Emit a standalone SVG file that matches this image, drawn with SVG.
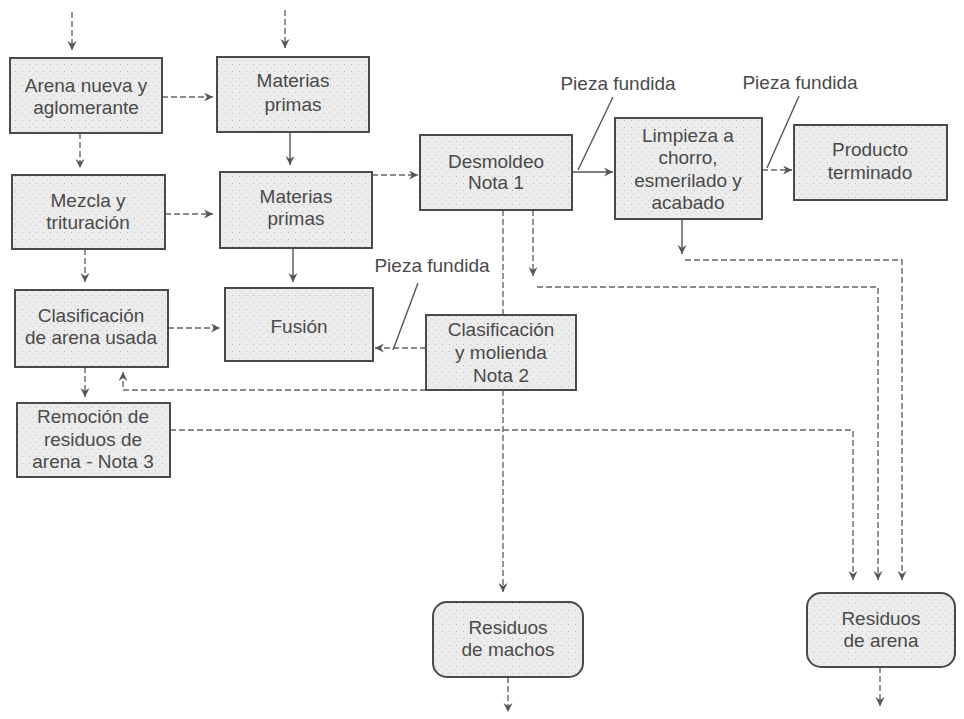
<svg xmlns="http://www.w3.org/2000/svg" width="964" height="719" viewBox="0 0 964 719">
<defs>
<pattern id="stip" width="7" height="7" patternUnits="userSpaceOnUse">
<rect width="7" height="7" fill="#ececec"/>
<circle cx="1.5" cy="1.5" r="0.6" fill="#b4b4b4"/>
<circle cx="5" cy="4.5" r="0.5" fill="#c4c4c4"/>
</pattern>
<marker id="ah" markerWidth="10" markerHeight="10" refX="9" refY="4.5" orient="auto" markerUnits="userSpaceOnUse">
<path d="M0,0 L9,4.5 L0,9 L3,4.5 z" fill="#555"/>
</marker>
<style>
.box{fill:url(#stip);stroke:#4a4a4a;stroke-width:2}
.t{font-family:"Liberation Sans",Arial,sans-serif;font-size:19px;fill:#4a4a4a;text-anchor:middle}
.lbl{font-family:"Liberation Sans",Arial,sans-serif;font-size:19px;fill:#4a4a4a;text-anchor:middle}
.c{fill:none;stroke:#666;stroke-width:1.4;stroke-dasharray:6 3}
.s{fill:none;stroke:#555;stroke-width:1.4}
.a{marker-end:url(#ah)}
</style>
</defs>
<g id="connectors">
<path class="c a" d="M72,12 V50"/>
<path class="c a" d="M285,10 V48"/>
<path class="c a" d="M162,97 H213"/>
<path class="c a" d="M80,133 V168"/>
<path class="s a" d="M290,132 V165"/>
<path class="c a" d="M165,214 H213"/>
<path class="c a" d="M372,175 H418"/>
<path class="s a" d="M293,248 V282"/>
<path class="c a" d="M85,249 V282"/>
<path class="c a" d="M168,328 H220"/>
<path class="c a" d="M85,367 V397"/>
<path class="c a" d="M426,390 H123 V372"/>
<path class="c a" d="M426,348 H375"/>
<path class="s a" d="M572,172 H613"/>
<path class="c a" d="M762,170 H792"/>
<path class="c a" d="M503,210 V592"/>
<path class="c a" d="M533,210 V276"/>
<path class="c a" d="M537,287 H878 V580"/>
<path class="s a" d="M682,219 V254"/>
<path class="c a" d="M685,260 H902 V580"/>
<path class="c a" d="M170,430 H853 V580"/>
<path class="c a" d="M508,677 V712"/>
<path class="c a" d="M880,667 V706"/>
<path class="s" d="M613,97 L578,170"/>
<path class="s" d="M799,96 L767,168"/>
<path class="s" d="M418,283 L393,350"/>
</g>
<g id="label-pieza1"><text class="lbl" x="618" y="90">Pieza fundida</text></g>
<g id="label-pieza2"><text class="lbl" x="800" y="89">Pieza fundida</text></g>
<g id="label-pieza3"><text class="lbl" x="432" y="272">Pieza fundida</text></g>
<g id="arena-nueva">
<rect class="box" x="10" y="58" width="152" height="75"/>
<text class="t" x="86" y="92">Arena nueva y</text>
<text class="t" x="86" y="114">aglomerante</text>
</g>
<g id="materias-1">
<rect class="box" x="217" y="57" width="152" height="75"/>
<text class="t" x="293" y="87">Materias</text>
<text class="t" x="293" y="111">primas</text>
</g>
<g id="mezcla">
<rect class="box" x="12" y="175" width="153" height="74"/>
<text class="t" x="88" y="207">Mezcla y</text>
<text class="t" x="88" y="229">trituración</text>
</g>
<g id="materias-2">
<rect class="box" x="220" y="172" width="152" height="76"/>
<text class="t" x="296" y="203">Materias</text>
<text class="t" x="296" y="225">primas</text>
</g>
<g id="desmoldeo">
<rect class="box" x="420" y="135" width="152" height="75"/>
<text class="t" x="496" y="168">Desmoldeo</text>
<text class="t" x="496" y="189">Nota 1</text>
</g>
<g id="limpieza">
<rect class="box" x="615" y="118" width="147" height="101"/>
<text class="t" x="688" y="142">Limpieza a</text>
<text class="t" x="688" y="164">chorro,</text>
<text class="t" x="688" y="187">esmerilado y</text>
<text class="t" x="688" y="209">acabado</text>
</g>
<g id="producto">
<rect class="box" x="794" y="125" width="153" height="75"/>
<text class="t" x="870" y="156">Producto</text>
<text class="t" x="870" y="179">terminado</text>
</g>
<g id="clasificacion-arena">
<rect class="box" x="15" y="290" width="153" height="77"/>
<text class="t" x="91" y="322">Clasificación</text>
<text class="t" x="91" y="344">de arena usada</text>
</g>
<g id="fusion">
<rect class="box" x="225" y="288" width="148" height="73"/>
<text class="t" x="299" y="333">Fusión</text>
</g>
<g id="clasificacion-molienda">
<rect class="box" x="426" y="315" width="150" height="75"/>
<text class="t" x="501" y="336">Clasificación</text>
<text class="t" x="501" y="359">y molienda</text>
<text class="t" x="501" y="382">Nota 2</text>
</g>
<g id="remocion">
<rect class="box" x="17" y="403" width="153" height="74"/>
<text class="t" x="93" y="423">Remoción de</text>
<text class="t" x="93" y="446">residuos de</text>
<text class="t" x="93" y="468">arena - Nota 3</text>
</g>
<g id="residuos-machos">
<rect class="box" x="433" y="602" width="150" height="75" rx="14"/>
<text class="t" x="508" y="634">Residuos</text>
<text class="t" x="508" y="656">de machos</text>
</g>
<g id="residuos-arena">
<rect class="box" x="807" y="593" width="148" height="74" rx="14"/>
<text class="t" x="881" y="625">Residuos</text>
<text class="t" x="881" y="647">de arena</text>
</g>
</svg>
